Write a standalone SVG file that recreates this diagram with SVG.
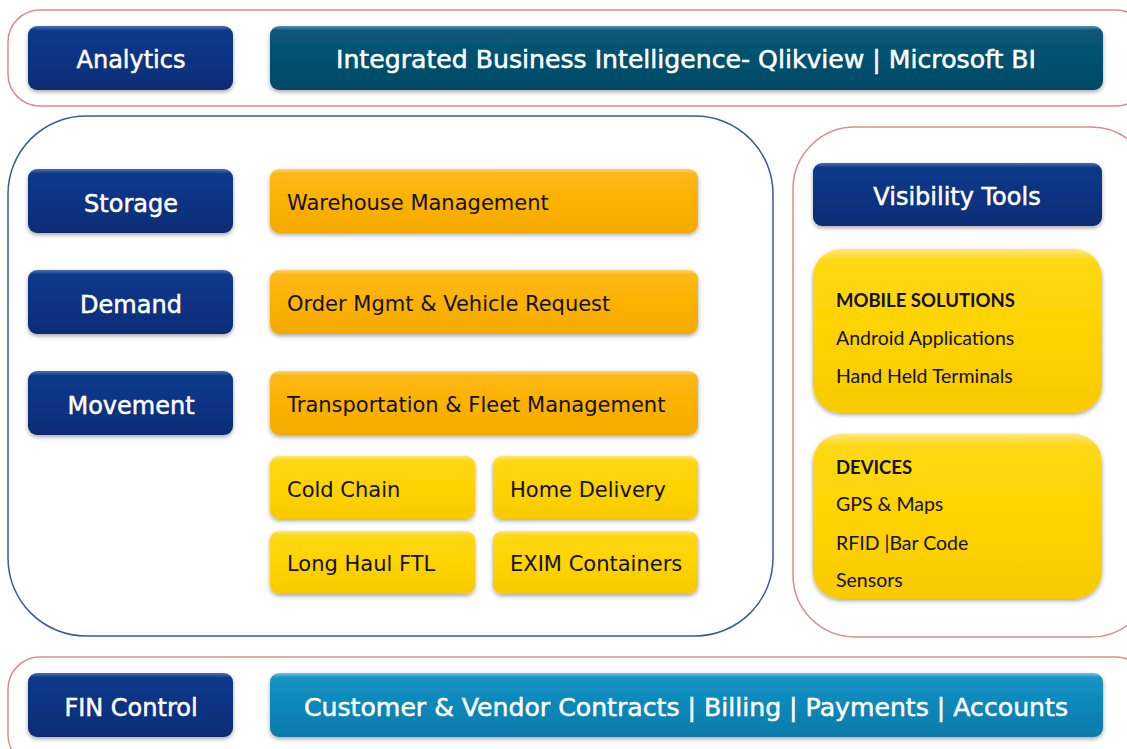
<svg xmlns="http://www.w3.org/2000/svg" width="1127" height="749" viewBox="0 0 1127 749">
<defs>
<filter id="sh" x="-10%" y="-20%" width="120%" height="150%">
<feDropShadow dx="0" dy="2" stdDeviation="2" flood-color="#000" flood-opacity="0.35"/>
</filter>
<linearGradient id="gNavy" x1="0" y1="0" x2="0" y2="1">
<stop offset="0" stop-color="#4d6fb0"/><stop offset="0.07" stop-color="#0e3a8a"/><stop offset="0.5" stop-color="#073383"/><stop offset="1" stop-color="#072c74"/>
</linearGradient>
<linearGradient id="gTeal" x1="0" y1="0" x2="0" y2="1">
<stop offset="0" stop-color="#5a93ad"/><stop offset="0.07" stop-color="#0b5878"/><stop offset="0.5" stop-color="#02516f"/><stop offset="1" stop-color="#044a66"/>
</linearGradient>
<linearGradient id="gBlue" x1="0" y1="0" x2="0" y2="1">
<stop offset="0" stop-color="#6ec6ec"/><stop offset="0.07" stop-color="#1a94c6"/><stop offset="0.5" stop-color="#0a87b9"/><stop offset="1" stop-color="#0a7ba9"/>
</linearGradient>
<linearGradient id="gOrange" x1="0" y1="0" x2="0" y2="1">
<stop offset="0" stop-color="#ffd36a"/><stop offset="0.07" stop-color="#fdb818"/><stop offset="0.5" stop-color="#fcb200"/><stop offset="1" stop-color="#f4a900"/>
</linearGradient>
<linearGradient id="gYellow" x1="0" y1="0" x2="0" y2="1">
<stop offset="0" stop-color="#ffe77a"/><stop offset="0.07" stop-color="#ffd814"/><stop offset="0.5" stop-color="#ffd300"/><stop offset="1" stop-color="#f8ca00"/>
</linearGradient>
<style>
.cont{fill:#fff;stroke:#dc8c8c;stroke-width:1.5}
.contb{fill:#fff;stroke:#3b5a96;stroke-width:1.5}
.navy{fill:url(#gNavy);filter:url(#sh)}
.teal{fill:url(#gTeal);filter:url(#sh)}
.blue{fill:url(#gBlue);filter:url(#sh)}
.orange{fill:url(#gOrange);filter:url(#sh)}
.yellow{fill:url(#gYellow);filter:url(#sh)}
.wt{font-family:"DejaVu Sans",Verdana,sans-serif;font-size:24px;fill:#fff;stroke:#fff;stroke-width:0.5;text-anchor:middle}
.bt{font-family:"DejaVu Sans",Verdana,sans-serif;font-size:21px;fill:#111}
.ct{font-family:Lato,"Open Sans",sans-serif;font-size:19.5px;fill:#111}
.ctb{font-family:Lato,"Open Sans",sans-serif;font-size:18.5px;fill:#111;font-weight:bold}
</style>
</defs>

<g id="containers">
<rect class="cont" x="8" y="10" width="1140" height="96" rx="32"/>
<rect class="contb" x="8" y="116" width="765" height="520" rx="78"/>
<rect class="cont" x="793" y="127" width="360" height="510" rx="62"/>
<rect class="cont" x="8" y="657" width="1140" height="110" rx="32"/>
</g>

<g id="analytics"><rect class="navy" x="28" y="26" width="205" height="64" rx="9"/><text class="wt" x="131" y="68">Analytics</text></g>
<g id="bi"><rect class="teal" x="270" y="26" width="833" height="64" rx="9"/><text class="wt" x="686" y="68" textLength="700" lengthAdjust="spacingAndGlyphs">Integrated Business Intelligence- Qlikview | Microsoft BI</text></g>

<g id="storage"><rect class="navy" x="28" y="169" width="205" height="64" rx="9"/><text class="wt" x="131" y="212">Storage</text></g>
<g id="warehouse"><rect class="orange" x="270" y="169" width="428" height="64" rx="9"/><text class="bt" x="287" y="210">Warehouse Management</text></g>

<g id="demand"><rect class="navy" x="28" y="270" width="205" height="64" rx="9"/><text class="wt" x="131" y="313">Demand</text></g>
<g id="order"><rect class="orange" x="270" y="270" width="428" height="64" rx="9"/><text class="bt" x="287" y="311">Order Mgmt &amp; Vehicle Request</text></g>

<g id="movement"><rect class="navy" x="28" y="371" width="205" height="64" rx="9"/><text class="wt" x="131" y="414">Movement</text></g>
<g id="transport"><rect class="orange" x="270" y="371" width="428" height="64" rx="9"/><text class="bt" x="287" y="412">Transportation &amp; Fleet Management</text></g>

<g id="coldchain"><rect class="yellow" x="270" y="456" width="205" height="63" rx="9"/><text class="bt" x="287" y="497">Cold Chain</text></g>
<g id="homedelivery"><rect class="yellow" x="493" y="456" width="205" height="63" rx="9"/><text class="bt" x="510" y="497">Home Delivery</text></g>
<g id="longhaul"><rect class="yellow" x="270" y="531" width="205" height="63" rx="9"/><text class="bt" x="287" y="571">Long Haul FTL</text></g>
<g id="exim"><rect class="yellow" x="493" y="531" width="205" height="63" rx="9"/><text class="bt" x="510" y="571">EXIM Containers</text></g>

<g id="visibility"><rect class="navy" x="813" y="163" width="289" height="63" rx="9"/><text class="wt" x="957" y="205">Visibility Tools</text></g>
<g id="mobile"><rect class="yellow" x="813" y="249" width="289" height="164" rx="28"/>
<text class="ctb" x="836" y="307">MOBILE SOLUTIONS</text>
<text class="ct" x="836" y="345">Android Applications</text>
<text class="ct" x="836" y="383">Hand Held Terminals</text></g>
<g id="devices"><rect class="yellow" x="813" y="434" width="289" height="165" rx="28"/>
<text class="ctb" x="836" y="474">DEVICES</text>
<text class="ct" x="836" y="511">GPS &amp; Maps</text>
<text class="ct" x="836" y="550">RFID |Bar Code</text>
<text class="ct" x="836" y="587">Sensors</text></g>

<g id="fincontrol"><rect class="navy" x="28" y="673" width="205" height="64" rx="9"/><text class="wt" x="131" y="716">FIN Control</text></g>
<g id="billing"><rect class="blue" x="270" y="673" width="833" height="64" rx="9"/><text class="wt" x="686" y="716" textLength="764" lengthAdjust="spacingAndGlyphs">Customer &amp; Vendor Contracts | Billing | Payments | Accounts</text></g>

<g id="connectors"></g>
</svg>
